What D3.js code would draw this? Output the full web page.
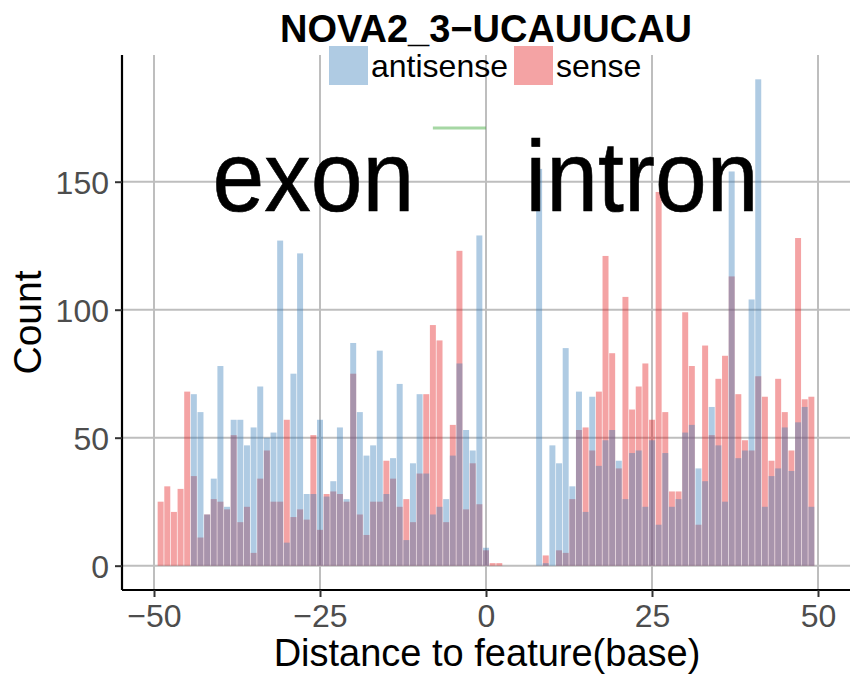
<!DOCTYPE html>
<html>
<head>
<meta charset="utf-8">
<script src="https://cdn.jsdelivr.net/npm/d3@7"></script>
<style>
  html, body { margin: 0; padding: 0; background: #fff; }
  svg { display: block; font-family: "Liberation Sans", Arial, Helvetica, sans-serif; }
</style>
</head>
<body>
<svg id="chart" width="864" height="678"></svg>
<script>
// ---- data ----
const positions = d3.range(-50, 51);
const antisense = [
  0, 0, 0, 0, 0, 0, 67, 60, 20, 34,
  78, 23, 57, 57, 47, 54, 70, 50, 52, 127,
  9, 75, 122, 28, 28, 57, 27, 33, 54, 26,
  87, 60, 43, 47, 84, 28, 42, 71, 10, 40,
  67, 36, 20, 23, 26, 43, 79, 53, 45, 129,
  7, 0, 0, 0, 0, 0, 0, 0, 155, 1,
  47, 40, 85, 31, 68, 21, 66, 39, 49, 53,
  41, 26, 44, 45, 23, 49, 16, 44, 23, 26,
  52, 55, 38, 33, 62, 47, 25, 154, 42, 45,
  104, 190, 23, 35, 38, 54, 37, 56, 62, 23,
  0
];
const sense = [
  0, 25, 31, 21, 30, 68, 35, 11, 20, 26,
  25, 22, 51, 17, 23, 5, 34, 45, 25, 25,
  57, 19, 22, 18, 51, 14, 28, 29, 28, 25,
  75, 20, 12, 25, 25, 41, 34, 23, 26, 17,
  36, 67, 94, 88, 17, 55, 123, 22, 40, 24,
  6, 1, 1, 0, 0, 0, 0, 0, 0, 4,
  0, 6, 5, 26, 53, 54, 45, 68, 121, 83,
  38, 105, 61, 70, 79, 57, 146, 60, 29, 29,
  99, 78, 16, 86, 51, 73, 82, 113, 67, 49,
  45, 74, 66, 41, 73, 60, 45, 128, 65, 66,
  0
];
const seriesNames = ["antisense", "sense"];
const seriesColors = { antisense: "#377EB8", sense: "#E41A1C" };
const xTicks = [-50, -25, 0, 25, 50];
const yTicks = [0, 50, 100, 150];
const regionLabels = [{ text: "exon", x: -26, y: 150 }, { text: "intron", x: 23.5, y: 150 }];
const segment = { x1: -8, x2: 0, y: 171 };
const title = "NOVA2_3\u2212UCAUUCAU";
const xTitle = "Distance to feature(base)";
const yTitle = "Count";

// ---- layout ----
const svg = d3.select("#chart");
const panel = { left: 122, right: 850, top: 55, bottom: 590 };
const x = d3.scaleLinear().domain([-54.82, 54.82]).range([panel.left, panel.right]);
const y = d3.scaleLinear().domain([-9.5, 199.5]).range([panel.bottom, panel.top]);
const barW = (x(1) - x(0)) * 0.9;

// grid
const grid = svg.append("g");
grid.selectAll("line.vg").data(xTicks).join("line")
  .attr("x1", d => x(d)).attr("x2", d => x(d))
  .attr("y1", panel.top).attr("y2", panel.bottom)
  .attr("stroke", "#bebebe").attr("stroke-width", 2);
grid.selectAll("line.hg").data(yTicks).join("line")
  .attr("y1", d => y(d)).attr("y2", d => y(d))
  .attr("x1", panel.left).attr("x2", panel.right)
  .attr("stroke", "#bebebe").attr("stroke-width", 2);

// bars: sense first, antisense on top
const drawSeries = (vals, color) => {
  svg.append("g").selectAll("rect").data(positions.map((p, i) => ({ p, v: vals[i] })).filter(d => d.v > 0))
    .join("rect")
    .attr("x", d => x(d.p) - barW / 2)
    .attr("width", barW)
    .attr("y", d => y(d.v))
    .attr("height", d => y(0) - y(d.v))
    .attr("fill", color)
    .attr("fill-opacity", 0.4);
};
drawSeries(sense, seriesColors.sense);
drawSeries(antisense, seriesColors.antisense);

// green segment
svg.append("line")
  .attr("x1", x(segment.x1)).attr("x2", x(segment.x2))
  .attr("y1", y(segment.y)).attr("y2", y(segment.y))
  .attr("stroke", "#4DAF4A").attr("stroke-opacity", 0.5).attr("stroke-width", 3);

// region labels
svg.append("g").selectAll("text").data(regionLabels).join("text")
  .attr("transform", d => `translate(${x(d.x)},${y(d.y) + 29}) scale(0.96,1.04)`)
  .attr("text-anchor", "middle")
  .attr("font-size", 97)
  .attr("stroke", "#000").attr("stroke-width", 0.6)
  .attr("fill", "#000")
  .text(d => d.text);

// axes
const xAxis = d3.axisBottom(x).tickValues(xTicks).tickSize(7).tickPadding(6)
  .tickFormat(d => d < 0 ? "\u2212" + Math.abs(d) : d);
const gx = svg.append("g").attr("transform", `translate(0,${panel.bottom})`).call(xAxis);
gx.select(".domain").attr("stroke", "#000").attr("stroke-width", 2.2)
  .attr("d", `M${panel.left},0H${panel.right}`);
gx.selectAll(".tick line").attr("stroke", "#333").attr("stroke-width", 2);
gx.selectAll(".tick text").attr("font-size", 32).attr("fill", "#4d4d4d")
  .attr("font-family", "Liberation Sans, Arial, sans-serif").attr("dy", "0.75em");

const yAxis = d3.axisLeft(y).tickValues(yTicks).tickSize(7).tickPadding(6);
const gy = svg.append("g").attr("transform", `translate(${panel.left},0)`).call(yAxis);
gy.select(".domain").attr("stroke", "#000").attr("stroke-width", 2.2)
  .attr("d", `M0,${panel.top}V${panel.bottom}`);
gy.selectAll(".tick line").attr("stroke", "#333").attr("stroke-width", 2);
gy.selectAll(".tick text").attr("font-size", 32).attr("fill", "#4d4d4d")
  .attr("font-family", "Liberation Sans, Arial, sans-serif").attr("dy", "0.36em");

// axis titles
svg.append("text").attr("x", 487).attr("y", 666)
  .attr("text-anchor", "middle").attr("font-size", 38).attr("fill", "#000").text(xTitle);
svg.append("text").attr("transform", `translate(41,${(panel.top + panel.bottom) / 2}) rotate(-90)`)
  .attr("text-anchor", "middle").attr("font-size", 39).attr("fill", "#000").text(yTitle);

// title
svg.append("text").attr("x", 486).attr("y", 42).attr("text-anchor", "middle")
  .attr("font-size", 38).attr("font-weight", "bold").attr("fill", "#000").text(title);

// legend
const legendItems = [
  { name: "antisense", sx: 329, tx: 371 },
  { name: "sense", sx: 514, tx: 556 }
];
const lg = svg.append("g");
lg.selectAll("rect").data(legendItems).join("rect")
  .attr("x", d => d.sx).attr("y", 46).attr("width", 39).attr("height", 39)
  .attr("fill", d => seriesColors[d.name]).attr("fill-opacity", 0.4);
lg.selectAll("text").data(legendItems).join("text")
  .attr("x", d => d.tx).attr("y", 77).attr("font-size", 32).attr("fill", "#000")
  .text(d => d.name);
</script>
</body>
</html>
